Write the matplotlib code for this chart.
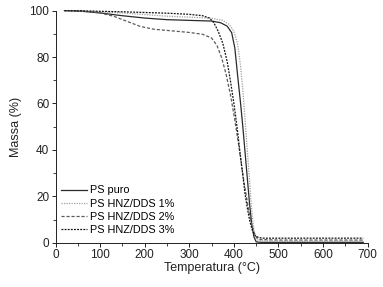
import matplotlib
matplotlib.use("Agg")
import matplotlib.pyplot as plt

plt.rcParams['font.family'] = ['Liberation Sans', 'DejaVu Sans']

# TGA curves
t_puro = [20, 60, 100, 150, 200, 250, 300, 350, 370, 385, 395, 402, 410, 415, 420, 425, 430, 435, 440, 445, 450, 460, 500, 600, 690]
m_puro = [100, 99.7, 99.0, 97.8, 96.8, 96.1, 95.8, 95.5, 94.8, 93.3, 90.5, 84, 69, 60, 50, 39, 28, 17, 8, 2.5, 0.4, 0.2, 0.2, 0.2, 0.2]

t_1 = [20, 60, 100, 150, 200, 250, 300, 350, 375, 390, 400, 408, 415, 420, 425, 430, 435, 440, 445, 450, 455, 465, 500, 600, 690]
m_1 = [100, 99.8, 99.5, 99.0, 98.3, 97.6, 97.2, 96.7, 95.8, 94, 91, 86, 76, 66, 53, 40, 27, 14, 5, 1.8, 1.0, 0.8, 0.7, 0.7, 0.7]

t_2 = [20, 60, 100, 130, 160, 190, 220, 260, 300, 330, 350, 362, 372, 382, 392, 402, 410, 416, 422, 428, 434, 440, 446, 452, 460, 500, 600, 690]
m_2 = [100, 99.8, 99.0, 97.6, 95.4, 93.2, 92.0, 91.3, 90.6, 89.8, 88.2, 85.0, 80, 73, 64, 53, 43, 35, 27, 20, 13, 8, 4, 2, 1.4, 1.2, 1.2, 1.2]

t_3 = [20, 60, 100, 150, 200, 250, 300, 330, 345, 355, 365, 375, 385, 392, 400, 407, 413, 420, 425, 430, 436, 442, 448, 455, 465, 500, 600, 690]
m_3 = [100, 99.9, 99.7, 99.5, 99.2, 98.9, 98.4, 97.8, 96.8, 94.8, 91, 86, 78, 70, 60, 50, 40, 29, 21, 15, 9, 5, 3, 2.3, 2.0, 2.0, 2.0, 2.0]

labels = ['PS puro', 'PS HNZ/DDS 1%', 'PS HNZ/DDS 2%', 'PS HNZ/DDS 3%']

fig = plt.figure(figsize=(3.83, 2.87), dpi=100)
ax = fig.add_axes([0.145, 0.154, 0.815, 0.809])

ax.plot(t_puro, m_puro, color='#2a2a2a', lw=0.9, ls='-', label=labels[0], clip_on=False)
ax.plot(t_1, m_1, color='#a0a0a0', lw=0.9, ls=(0, (1, 1)), label=labels[1], clip_on=False)
ax.plot(t_2, m_2, color='#5a5a5a', lw=0.9, ls=(0, (2.5, 1.5)), label=labels[2], clip_on=False)
ax.plot(t_3, m_3, color='#111111', lw=0.9, ls=(0, (1.5, 1)), label=labels[3], clip_on=False)

ax.set_xlim(0, 700)
ax.set_ylim(0, 100)
ax.set_xticks(range(0, 701, 100))
ax.set_xticks(range(50, 700, 100), minor=True)
ax.set_yticks(range(0, 101, 20))
ax.set_yticks(range(10, 100, 20), minor=True)
ax.tick_params(which='major', direction='out', length=3, width=0.7, labelsize=8.5, colors='#222222', pad=1.5)
ax.tick_params(which='minor', direction='out', length=2, width=0.6, colors='#222222')

for side in ['top', 'right']:
    ax.spines[side].set_visible(False)
for side in ['left', 'bottom']:
    ax.spines[side].set_linewidth(0.7)
    ax.spines[side].set_color('#222222')

ax.set_xlabel('Temperatura (°C)', fontsize=9, labelpad=1, color='#222222')
ax.set_ylabel('Massa (%)', fontsize=9, labelpad=5, color='#222222')

ax.legend(loc='lower left', frameon=False, fontsize=7.8, handlelength=2.4, handletextpad=0.3,
          labelspacing=0.3, borderaxespad=0.1, bbox_to_anchor=(0.0, 0.01))

fig.savefig('out.png', dpi=100)
